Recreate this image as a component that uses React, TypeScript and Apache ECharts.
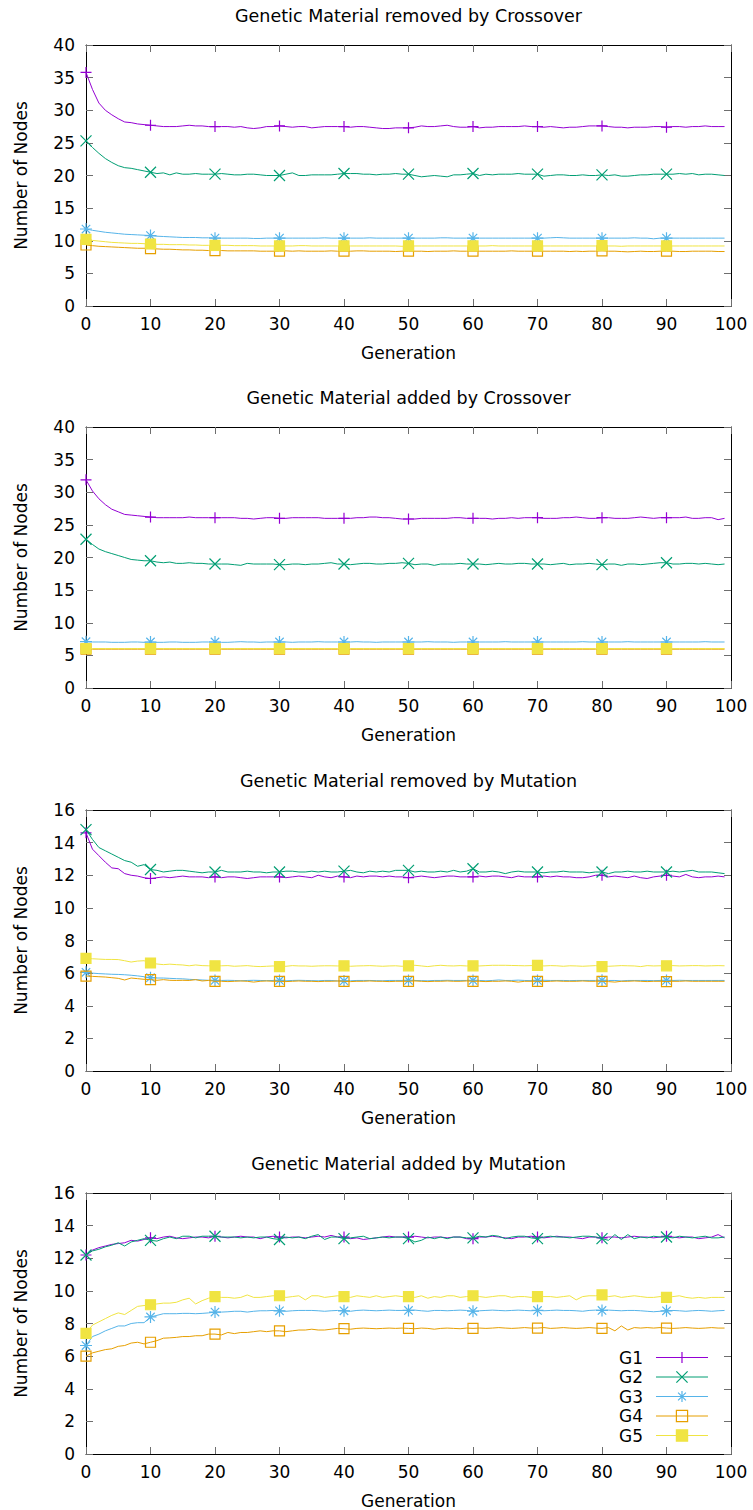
import React, { useEffect, useRef } from "react";
import * as echarts from "echarts";

// ---------- data ----------
const generations: number[] = Array.from({ length: 100 }, (_, i) => i);
const seriesNames = ["G1", "G2", "G3", "G4", "G5"];
const panelTitles = [
  "Genetic Material removed by Crossover",
  "Genetic Material added by Crossover",
  "Genetic Material removed by Mutation",
  "Genetic Material added by Mutation",
];
const yMaxes = [40, 40, 16, 16];
const yIntervals = [5, 5, 2, 2];
const xTicks = [0, 10, 20, 30, 40, 50, 60, 70, 80, 90, 100];

// Panel 1: removed by Crossover
const rcG1 = [
  35.8, 33.2, 31.1, 30.0, 29.3, 28.7, 28.2, 28.1, 27.9, 27.8,
  27.7, 27.6, 27.5, 27.5, 27.5, 27.6, 27.7, 27.6, 27.6, 27.5,
  27.5, 27.5, 27.5, 27.4, 27.5, 27.3, 27.2, 27.3, 27.5, 27.5,
  27.6, 27.5, 27.4, 27.5, 27.5, 27.3, 27.4, 27.5, 27.5, 27.5,
  27.5, 27.4, 27.5, 27.5, 27.4, 27.3, 27.2, 27.2, 27.3, 27.3,
  27.3, 27.4, 27.6, 27.5, 27.5, 27.6, 27.7, 27.5, 27.4, 27.4,
  27.5, 27.3, 27.4, 27.4, 27.5, 27.5, 27.5, 27.5, 27.6, 27.5,
  27.5, 27.4, 27.5, 27.4, 27.3, 27.4, 27.4, 27.5, 27.6, 27.6,
  27.6, 27.5, 27.4, 27.4, 27.3, 27.4, 27.4, 27.4, 27.5, 27.5,
  27.4, 27.5, 27.5, 27.4, 27.5, 27.5, 27.6, 27.5, 27.5, 27.5,
];
const rcG2 = [
  25.3, 24.3, 23.4, 22.6, 22.0, 21.5, 21.2, 21.1, 20.9, 20.7,
  20.5, 20.3, 20.4, 20.1, 20.4, 20.2, 20.2, 20.3, 20.2, 20.2,
  20.2, 20.3, 20.2, 20.1, 20.1, 20.2, 20.2, 20.1, 20.0, 20.0,
  20.0, 20.2, 20.4, 20.0, 20.0, 20.1, 20.1, 20.1, 20.1, 20.2,
  20.3, 20.3, 20.3, 20.2, 20.2, 20.1, 20.2, 20.2, 20.3, 20.2,
  20.2, 20.0, 19.8, 19.9, 20.0, 19.9, 19.8, 20.1, 20.1, 20.2,
  20.3, 20.0, 20.2, 20.1, 20.2, 20.2, 20.2, 20.3, 20.2, 20.2,
  20.2, 19.9, 20.0, 20.1, 20.1, 20.0, 20.0, 20.1, 20.0, 20.0,
  20.1, 20.0, 20.1, 19.9, 19.9, 20.0, 20.1, 20.1, 20.2, 20.2,
  20.2, 20.2, 20.3, 20.2, 20.3, 20.1, 20.2, 20.2, 20.1, 20.0,
];
const rcG3 = [
  11.8, 11.6, 11.45, 11.3, 11.2, 11.1, 11.0, 10.95, 10.9, 10.85,
  10.8, 10.7, 10.65, 10.6, 10.55, 10.5, 10.5, 10.5, 10.45, 10.45,
  10.4, 10.4, 10.4, 10.4, 10.4, 10.4, 10.35, 10.35, 10.4, 10.4,
  10.4, 10.4, 10.4, 10.4, 10.4, 10.4, 10.4, 10.45, 10.4, 10.4,
  10.4, 10.4, 10.4, 10.4, 10.45, 10.4, 10.4, 10.4, 10.4, 10.4,
  10.4, 10.4, 10.4, 10.4, 10.4, 10.45, 10.45, 10.4, 10.4, 10.4,
  10.4, 10.4, 10.4, 10.4, 10.4, 10.4, 10.4, 10.4, 10.4, 10.4,
  10.4, 10.4, 10.45, 10.5, 10.45, 10.4, 10.4, 10.4, 10.4, 10.4,
  10.4, 10.4, 10.4, 10.4, 10.4, 10.45, 10.4, 10.4, 10.3, 10.4,
  10.4, 10.4, 10.4, 10.4, 10.4, 10.4, 10.4, 10.4, 10.4, 10.4,
];
const rcG4 = [
  9.35, 9.25, 9.15, 9.1, 9.05, 9.0, 8.95, 8.9, 8.85, 8.85,
  8.8, 8.75, 8.7, 8.7, 8.65, 8.6, 8.6, 8.55, 8.55, 8.5,
  8.5, 8.5, 8.45, 8.45, 8.45, 8.45, 8.45, 8.4, 8.4, 8.4,
  8.4, 8.45, 8.4, 8.45, 8.4, 8.4, 8.4, 8.4, 8.45, 8.4,
  8.4, 8.4, 8.45, 8.45, 8.4, 8.4, 8.4, 8.4, 8.35, 8.4,
  8.4, 8.4, 8.4, 8.35, 8.4, 8.4, 8.4, 8.45, 8.4, 8.4,
  8.4, 8.4, 8.4, 8.4, 8.4, 8.4, 8.45, 8.4, 8.4, 8.4,
  8.4, 8.4, 8.4, 8.4, 8.4, 8.35, 8.4, 8.35, 8.4, 8.4,
  8.45, 8.4, 8.4, 8.35, 8.3, 8.35, 8.4, 8.35, 8.35, 8.4,
  8.4, 8.4, 8.35, 8.35, 8.4, 8.4, 8.4, 8.4, 8.35, 8.35,
];
const rcG5 = [
  10.2, 10.05, 9.95, 9.85, 9.75, 9.7, 9.65, 9.6, 9.6, 9.55,
  9.5, 9.45, 9.45, 9.4, 9.4, 9.4, 9.35, 9.35, 9.3, 9.3,
  9.3, 9.3, 9.3, 9.25, 9.25, 9.25, 9.25, 9.2, 9.2, 9.2,
  9.2, 9.2, 9.2, 9.25, 9.25, 9.2, 9.2, 9.2, 9.2, 9.2,
  9.2, 9.2, 9.2, 9.2, 9.2, 9.2, 9.2, 9.2, 9.2, 9.15,
  9.2, 9.2, 9.2, 9.2, 9.2, 9.2, 9.2, 9.2, 9.2, 9.2,
  9.2, 9.2, 9.2, 9.25, 9.2, 9.2, 9.2, 9.2, 9.2, 9.2,
  9.2, 9.2, 9.2, 9.2, 9.2, 9.2, 9.2, 9.2, 9.2, 9.2,
  9.25, 9.2, 9.2, 9.15, 9.2, 9.2, 9.2, 9.2, 9.2, 9.2,
  9.2, 9.2, 9.2, 9.2, 9.2, 9.2, 9.2, 9.2, 9.2, 9.2,
];

// Panel 2: added by Crossover
const acG1 = [
  31.9, 30.2, 29.0, 28.1, 27.4, 27.0, 26.6, 26.5, 26.4, 26.3,
  26.2, 26.1, 26.1, 26.1, 26.1, 26.1, 26.2, 26.1, 26.1, 26.1,
  26.1, 26.1, 26.1, 26.1, 26.0, 26.0, 25.9, 26.0, 26.1, 26.1,
  26.0, 26.0, 26.1, 26.1, 26.1, 26.1, 26.1, 26.0, 26.0, 26.0,
  26.0, 26.0, 26.1, 26.1, 26.2, 26.2, 26.1, 26.1, 26.0, 25.9,
  25.9, 25.9, 26.0, 26.0, 26.0, 26.0, 26.0, 26.1, 26.1, 26.0,
  26.0, 26.0, 26.0, 25.9, 26.0, 26.0, 26.1, 26.0, 26.1, 26.1,
  26.1, 26.0, 26.0, 26.0, 26.1, 26.1, 26.2, 26.1, 26.0, 26.0,
  26.1, 26.1, 26.0, 26.0, 26.0, 26.1, 26.2, 26.1, 26.0, 26.1,
  26.1, 26.1, 26.1, 26.2, 26.0, 26.0, 26.1, 26.1, 25.8, 26.0,
];
const acG2 = [
  22.8, 22.0, 21.3, 20.9, 20.6, 20.3, 20.0, 19.7, 19.6, 19.5,
  19.5, 19.3, 19.2, 19.3, 19.1, 19.1, 19.2, 19.1, 19.1, 19.0,
  19.0, 19.0, 19.0, 18.9, 18.8, 19.1, 19.0, 19.0, 19.0, 19.0,
  18.9, 18.9, 19.0, 19.0, 18.9, 19.0, 19.0, 19.1, 19.2, 19.0,
  19.0, 18.9, 19.0, 19.1, 19.1, 19.0, 19.0, 19.1, 19.1, 19.2,
  19.1, 18.9, 19.0, 19.0, 18.8, 19.0, 19.0, 19.0, 19.1, 19.0,
  19.0, 19.0, 18.9, 19.0, 19.1, 19.0, 19.0, 19.1, 19.1, 19.0,
  19.0, 19.0, 18.9, 19.0, 19.1, 18.9, 19.0, 19.0, 19.1, 19.0,
  18.9, 19.0, 19.0, 18.8, 19.0, 19.0, 18.9, 19.0, 19.1, 19.2,
  19.2, 19.0, 19.0, 19.1, 19.1, 19.0, 19.1, 19.0, 18.9, 19.0,
];
const acG3 = [
  7.1, 7.05, 7.05, 7.05, 7.0, 7.0, 7.0, 7.05, 7.05, 7.0,
  7.05, 7.0, 7.0, 7.05, 7.05, 7.0, 7.0, 7.0, 7.05, 7.05,
  7.05, 7.0, 7.0, 7.05, 7.1, 7.05, 7.05, 7.0, 7.05, 7.05,
  7.05, 7.05, 7.0, 7.05, 7.05, 7.05, 7.1, 7.05, 7.05, 7.05,
  7.05, 7.05, 7.1, 7.05, 7.05, 7.0, 7.05, 7.05, 7.05, 7.05,
  7.05, 7.05, 7.05, 7.1, 7.05, 7.05, 7.05, 7.0, 7.05, 7.05,
  7.05, 7.05, 7.05, 7.05, 7.05, 7.1, 7.05, 7.05, 7.05, 7.05,
  7.05, 7.05, 7.05, 7.05, 7.05, 7.05, 7.05, 7.1, 7.05, 7.05,
  7.05, 7.05, 7.05, 7.05, 7.1, 7.05, 7.05, 7.05, 7.05, 7.05,
  7.05, 7.05, 7.05, 7.05, 7.05, 7.05, 7.1, 7.05, 7.05, 7.05,
];
const acG4 = [
  5.95, 5.95, 5.95, 5.95, 5.95, 5.95, 5.95, 5.95, 5.95, 5.95,
  5.95, 5.95, 5.95, 5.95, 5.95, 5.95, 5.95, 5.95, 5.95, 5.95,
  5.95, 5.95, 5.95, 5.95, 5.95, 5.95, 5.95, 5.95, 5.95, 5.95,
  5.95, 5.95, 5.95, 5.95, 5.95, 5.95, 5.95, 5.95, 5.95, 5.95,
  5.95, 5.95, 5.95, 5.95, 5.95, 5.95, 5.95, 5.95, 5.95, 5.95,
  5.95, 5.95, 5.95, 5.95, 5.95, 5.95, 5.95, 5.95, 5.95, 5.95,
  5.95, 5.95, 5.95, 5.95, 5.95, 5.95, 5.95, 5.95, 5.95, 5.95,
  5.95, 5.95, 5.95, 5.95, 5.95, 5.95, 5.95, 5.95, 5.95, 5.95,
  5.95, 5.95, 5.95, 5.95, 5.95, 5.95, 5.95, 5.95, 5.95, 5.95,
  5.95, 5.95, 5.95, 5.95, 5.95, 5.95, 5.95, 5.95, 5.95, 5.95,
];
const acG5 = [
  6.05, 6.05, 6.05, 6.05, 6.05, 6.05, 6.05, 6.05, 6.05, 6.05,
  6.05, 6.05, 6.05, 6.05, 6.05, 6.05, 6.05, 6.05, 6.05, 6.05,
  6.05, 6.05, 6.05, 6.05, 6.05, 6.05, 6.05, 6.05, 6.05, 6.05,
  6.05, 6.05, 6.05, 6.05, 6.05, 6.05, 6.05, 6.05, 6.05, 6.05,
  6.05, 6.05, 6.05, 6.05, 6.05, 6.05, 6.05, 6.05, 6.05, 6.05,
  6.05, 6.05, 6.05, 6.05, 6.05, 6.05, 6.05, 6.05, 6.05, 6.05,
  6.05, 6.05, 6.05, 6.05, 6.05, 6.05, 6.05, 6.05, 6.05, 6.05,
  6.05, 6.05, 6.05, 6.05, 6.05, 6.05, 6.05, 6.05, 6.05, 6.05,
  6.05, 6.05, 6.05, 6.05, 6.05, 6.05, 6.05, 6.05, 6.05, 6.05,
  6.05, 6.05, 6.05, 6.05, 6.05, 6.05, 6.05, 6.05, 6.05, 6.05,
];

// Panel 3: removed by Mutation
const rmG1 = [
  14.6, 13.6, 13.2, 12.8, 12.45, 12.4, 12.1, 12.0, 11.95, 11.85,
  11.8, 11.85, 11.9, 11.85, 11.9, 11.95, 11.9, 11.9, 11.9, 11.85,
  11.9, 11.85, 11.9, 11.9, 11.85, 11.8, 11.85, 11.9, 11.9, 11.9,
  11.9, 11.85, 11.9, 11.95, 11.9, 11.85, 12.0, 11.9, 11.85, 11.95,
  11.9, 11.85, 11.95, 11.9, 11.95, 11.95, 11.9, 11.95, 11.9, 11.9,
  11.85, 11.9, 11.95, 11.9, 11.85, 11.9, 11.95, 11.95, 11.9, 11.9,
  11.9, 11.95, 11.9, 11.95, 11.95, 11.9, 11.85, 11.95, 11.9, 11.9,
  11.9, 11.95, 11.9, 11.95, 11.9, 11.9, 11.85, 11.85, 11.9, 12.0,
  12.0, 11.9, 11.95, 11.9, 11.85, 11.95, 11.85, 11.8, 11.9, 11.95,
  12.0, 11.95, 11.9, 12.05, 11.9, 11.85, 11.9, 11.9, 11.95, 11.9,
];
const rmG2 = [
  14.8, 14.2, 13.7, 13.5, 13.3, 13.1, 12.9, 12.8, 12.55, 12.65,
  12.35, 12.3, 12.2, 12.25, 12.3, 12.3, 12.25, 12.2, 12.15, 12.2,
  12.2, 12.3, 12.2, 12.2, 12.2, 12.25, 12.2, 12.2, 12.15, 12.2,
  12.2, 12.25, 12.25, 12.2, 12.2, 12.25, 12.2, 12.25, 12.2, 12.2,
  12.25, 12.3, 12.2, 12.15, 12.25, 12.2, 12.25, 12.2, 12.3, 12.3,
  12.3, 12.2, 12.25, 12.2, 12.2, 12.25, 12.2, 12.3, 12.2, 12.25,
  12.4, 12.2, 12.2, 12.25, 12.2, 12.1, 12.2, 12.25, 12.2, 12.2,
  12.2, 12.15, 12.2, 12.2, 12.25, 12.2, 12.2, 12.2, 12.15, 12.2,
  12.2, 12.1, 12.2, 12.2, 12.25, 12.2, 12.2, 12.25, 12.2, 12.2,
  12.2, 12.25, 12.2, 12.25, 12.3, 12.2, 12.2, 12.2, 12.15, 12.1,
];
const rmG3 = [
  6.05, 6.0, 5.97, 5.95, 5.93, 5.92, 5.9, 5.87, 5.83, 5.78,
  5.72, 5.7, 5.7, 5.68, 5.66, 5.65, 5.62, 5.6, 5.58, 5.56,
  5.55, 5.55, 5.56, 5.55, 5.53, 5.55, 5.56, 5.55, 5.54, 5.55,
  5.55, 5.53, 5.55, 5.56, 5.55, 5.54, 5.53, 5.55, 5.55, 5.52,
  5.52, 5.53, 5.55, 5.55, 5.55, 5.54, 5.53, 5.55, 5.55, 5.55,
  5.55, 5.55, 5.54, 5.53, 5.55, 5.55, 5.56, 5.55, 5.55, 5.55,
  5.55, 5.55, 5.53, 5.55, 5.58, 5.55, 5.55, 5.57, 5.55, 5.54,
  5.55, 5.56, 5.55, 5.55, 5.55, 5.54, 5.55, 5.55, 5.55, 5.55,
  5.56, 5.55, 5.55, 5.52, 5.55, 5.55, 5.55, 5.55, 5.54, 5.55,
  5.55, 5.55, 5.56, 5.55, 5.55, 5.55, 5.55, 5.55, 5.55, 5.55,
];
const rmG4 = [
  5.82, 5.8, 5.78, 5.76, 5.72, 5.68, 5.58, 5.7, 5.66, 5.62,
  5.6, 5.56, 5.6, 5.56, 5.55, 5.56, 5.55, 5.6, 5.52, 5.55,
  5.5, 5.5, 5.48, 5.5, 5.52, 5.5, 5.45, 5.5, 5.52, 5.5,
  5.5, 5.48, 5.5, 5.52, 5.5, 5.5, 5.48, 5.5, 5.5, 5.52,
  5.5, 5.48, 5.5, 5.5, 5.52, 5.5, 5.5, 5.48, 5.5, 5.5,
  5.5, 5.52, 5.5, 5.48, 5.5, 5.5, 5.52, 5.5, 5.5, 5.52,
  5.5, 5.5, 5.48, 5.5, 5.5, 5.52, 5.5, 5.45, 5.5, 5.5,
  5.5, 5.48, 5.5, 5.52, 5.5, 5.5, 5.5, 5.52, 5.5, 5.5,
  5.5, 5.48, 5.45, 5.5, 5.5, 5.52, 5.5, 5.48, 5.5, 5.5,
  5.48, 5.5, 5.5, 5.52, 5.5, 5.5, 5.5, 5.5, 5.5, 5.5,
];
const rmG5 = [
  6.9, 6.88, 6.86, 6.84, 6.84, 6.83, 6.76, 6.68, 6.74, 6.76,
  6.62, 6.56, 6.52, 6.55, 6.52, 6.5, 6.45, 6.5, 6.46, 6.45,
  6.45, 6.45, 6.46, 6.42, 6.44, 6.46, 6.42, 6.4, 6.42, 6.44,
  6.4, 6.42, 6.46, 6.44, 6.44, 6.42, 6.44, 6.45, 6.45, 6.44,
  6.45, 6.42, 6.44, 6.45, 6.46, 6.44, 6.42, 6.44, 6.45, 6.42,
  6.45, 6.48, 6.44, 6.4, 6.45, 6.48, 6.45, 6.44, 6.46, 6.44,
  6.45, 6.44, 6.46, 6.48, 6.48, 6.48, 6.47, 6.46, 6.45, 6.46,
  6.48, 6.44, 6.46, 6.45, 6.42, 6.45, 6.44, 6.42, 6.44, 6.46,
  6.4, 6.42, 6.44, 6.46, 6.45, 6.44, 6.4, 6.46, 6.44, 6.45,
  6.45, 6.46, 6.44, 6.45, 6.46, 6.46, 6.44, 6.45, 6.46, 6.45,
];

// Panel 4: added by Mutation
const amG1 = [
  12.2, 12.5, 12.65, 12.75, 12.85, 12.9, 12.95, 13.1, 13.05, 13.15,
  13.25, 13.2, 13.3, 13.35, 13.25, 13.2, 13.25, 13.3, 13.3, 13.25,
  13.35, 13.3, 13.25, 13.3, 13.35, 13.3, 13.3, 13.2, 13.3, 13.35,
  13.3, 13.25, 13.3, 13.3, 13.25, 13.3, 13.35, 13.3, 13.4, 13.3,
  13.3, 13.2, 13.25, 13.15, 13.2, 13.25, 13.3, 13.35, 13.3, 13.3,
  13.3, 13.35, 13.3, 13.25, 13.3, 13.3, 13.25, 13.3, 13.3, 13.2,
  13.2, 13.3, 13.3, 13.35, 13.3, 13.25, 13.2, 13.3, 13.3, 13.35,
  13.3, 13.25, 13.3, 13.35, 13.3, 13.3, 13.25, 13.2, 13.3, 13.3,
  13.25, 13.3, 13.3, 13.25, 13.3, 13.35, 13.3, 13.3, 13.25, 13.3,
  13.35, 13.3, 13.25, 13.3, 13.3, 13.2, 13.25, 13.3, 13.45, 13.25,
];
const amG2 = [
  12.2, 12.45, 12.55, 12.7, 12.8, 12.95, 12.75, 13.0, 13.1, 13.2,
  13.1, 13.05, 13.2, 13.3, 13.2, 13.35, 13.35, 13.25, 13.35, 13.35,
  13.35, 13.3, 13.3, 13.3, 13.25, 13.3, 13.25, 13.3, 13.3, 13.2,
  13.15, 13.3, 13.25, 13.3, 13.2, 13.35, 13.45, 13.15, 13.3, 13.3,
  13.2, 13.25, 13.3, 13.35, 13.2, 13.25, 13.3, 13.25, 13.3, 13.3,
  13.2, 13.0, 13.1, 13.3, 13.2, 13.3, 13.2, 13.3, 13.3, 13.25,
  13.25, 13.35, 13.3, 13.4, 13.35, 13.2, 13.3, 13.35, 13.35, 13.25,
  13.2, 13.3, 13.35, 13.3, 13.3, 13.25, 13.3, 13.35, 13.35, 13.3,
  13.2, 13.1, 13.45, 13.15, 13.45, 13.2, 13.3, 13.25, 13.35, 13.3,
  13.3, 13.25, 13.35, 13.3, 13.25, 13.3, 13.35, 13.25, 13.25, 13.3,
];
const amG3 = [
  6.65, 7.2, 7.35, 7.55, 7.7, 7.85, 7.85, 8.0, 8.05, 8.05,
  8.4, 8.5, 8.6, 8.6, 8.6, 8.62, 8.62, 8.6, 8.62, 8.65,
  8.7, 8.7, 8.72, 8.75, 8.75, 8.7, 8.75, 8.78, 8.78, 8.8,
  8.78, 8.75, 8.78, 8.8, 8.8, 8.8, 8.78, 8.75, 8.78, 8.8,
  8.78, 8.75, 8.8, 8.82, 8.8, 8.78, 8.8, 8.82, 8.8, 8.8,
  8.8, 8.82, 8.78, 8.75, 8.8, 8.8, 8.78, 8.8, 8.82, 8.8,
  8.75, 8.78, 8.8, 8.82, 8.8, 8.78, 8.8, 8.82, 8.8, 8.78,
  8.8, 8.78, 8.8, 8.82, 8.8, 8.8, 8.78, 8.75, 8.8, 8.82,
  8.8, 8.82, 8.8, 8.78, 8.8, 8.8, 8.78, 8.75, 8.72, 8.75,
  8.78, 8.8, 8.78, 8.75, 8.78, 8.8, 8.78, 8.75, 8.78, 8.8,
];
const amG4 = [
  6.0, 6.2, 6.3, 6.4, 6.45, 6.6, 6.65, 6.8, 6.85, 6.75,
  6.85, 6.95, 7.1, 7.12, 7.15, 7.2, 7.2, 7.25, 7.25, 7.35,
  7.35, 7.3, 7.45, 7.38, 7.45, 7.45, 7.5, 7.55, 7.5, 7.55,
  7.55, 7.5, 7.55, 7.6, 7.6, 7.65, 7.6, 7.6, 7.65, 7.7,
  7.68, 7.65, 7.7, 7.72, 7.7, 7.68, 7.7, 7.72, 7.7, 7.72,
  7.7, 7.68, 7.72, 7.7, 7.65, 7.7, 7.72, 7.7, 7.68, 7.72,
  7.7, 7.72, 7.7, 7.72, 7.75, 7.72, 7.7, 7.72, 7.75, 7.72,
  7.72, 7.75, 7.7, 7.72, 7.75, 7.72, 7.7, 7.72, 7.75, 7.72,
  7.7, 7.75, 7.55, 7.85, 7.6, 7.75, 7.72, 7.75, 7.72, 7.75,
  7.72, 7.7, 7.72, 7.75, 7.72, 7.7, 7.72, 7.75, 7.72, 7.72,
];
const amG5 = [
  7.4, 7.9, 8.1, 8.3, 8.5, 8.65, 8.55, 8.8, 9.05, 9.1,
  9.15, 9.2, 9.25, 9.25, 9.3, 9.45, 9.55, 9.2, 9.4, 9.55,
  9.65, 9.6, 9.6, 9.55, 9.6, 9.75, 9.6, 9.6, 9.65, 9.7,
  9.7, 9.6, 9.65, 9.7, 9.45, 9.7, 9.7, 9.6, 9.65, 9.7,
  9.65, 9.6, 9.7, 9.65, 9.6, 9.7, 9.6, 9.65, 9.7, 9.65,
  9.65, 9.6, 9.7, 9.55, 9.65, 9.6, 9.7, 9.7, 9.6, 9.65,
  9.7, 9.65, 9.6, 9.65, 9.7, 9.7, 9.6, 9.65, 9.65, 9.6,
  9.65, 9.65, 9.65, 9.6, 9.65, 9.7, 9.45, 9.65, 9.7, 9.7,
  9.75, 9.65, 9.7, 9.6, 9.65, 9.7, 9.65, 9.6, 9.6, 9.65,
  9.6, 9.65, 9.7, 9.6, 9.55, 9.6, 9.55, 9.6, 9.6, 9.6,
];

const panelData = [
  [rcG1, rcG2, rcG3, rcG4, rcG5],
  [acG1, acG2, acG3, acG4, acG5],
  [rmG1, rmG2, rmG3, rmG4, rmG5],
  [amG1, amG2, amG3, amG4, amG5],
];

// ---------- styling ----------
const COLORS = ["#9400d3", "#009e73", "#56b4e9", "#e69f00", "#f0e442"];
const SYMBOLS = [
  "path://M5,0L5,10M0,5L10,5",
  "path://M0,0L10,10M10,0L0,10",
  "path://M5,0L5,10M0,5L10,5M1.5,1.5L8.5,8.5M8.5,1.5L1.5,8.5",
  "path://M0,0L10,0L10,10L0,10Z",
  "path://M0,0L10,0L10,10L0,10Z",
];
const FILLED = [false, false, false, false, true];
const FONT = "DejaVu Sans";
const GRID_TOPS = [45, 427, 810, 1193];
const GRID_H = 261;
const GRID_LEFT = 86;
const GRID_RIGHT = 22;

export default function App() {
  const ref = useRef<HTMLDivElement>(null);

  useEffect(() => {
    if (!ref.current) return;
    const chart = echarts.init(ref.current, null, { renderer: "svg" });

    const axisLine = { show: true, onZero: false, lineStyle: { color: "#000", width: 1 } };
    const axisTick = { show: true, inside: true, length: 7, lineStyle: { color: "#6e6e6e", width: 1 } };
    const labelStyle = { fontSize: 17, fontFamily: FONT, color: "#000" };

    const grids: any[] = [];
    const xAxes: any[] = [];
    const yAxes: any[] = [];
    const titles: any[] = [];
    const series: any[] = [];

    for (let p = 0; p < 4; p++) {
      grids.push({ left: GRID_LEFT, right: GRID_RIGHT, top: GRID_TOPS[p], height: GRID_H, containLabel: false });
      titles.push({
        text: panelTitles[p],
        left: (GRID_LEFT + 753 - GRID_RIGHT) / 2,
        top: GRID_TOPS[p] - 38,
        textAlign: "center",
        padding: 0,
        textStyle: { fontSize: 17.5, fontWeight: "normal", fontFamily: FONT, color: "#000" },
      });
      xAxes.push({
        type: "value", gridIndex: p, position: "bottom",
        min: xTicks[0], max: xTicks[xTicks.length - 1], interval: 10,
        name: "Generation", nameLocation: "middle", nameGap: 38,
        nameTextStyle: labelStyle,
        axisLine, axisTick,
        axisLabel: { ...labelStyle, margin: 9 },
        splitLine: { show: false },
      });
      xAxes.push({
        type: "value", gridIndex: p, position: "top",
        min: xTicks[0], max: xTicks[xTicks.length - 1], interval: 10,
        axisLine, axisTick, axisLabel: { show: false }, splitLine: { show: false },
      });
      yAxes.push({
        type: "value", gridIndex: p, position: "left",
        min: 0, max: yMaxes[p], interval: yIntervals[p],
        name: "Number of Nodes", nameLocation: "middle", nameGap: 57,
        nameTextStyle: labelStyle,
        axisLine, axisTick,
        axisLabel: { ...labelStyle, margin: 11 },
        splitLine: { show: false },
      });
      yAxes.push({
        type: "value", gridIndex: p, position: "right",
        min: 0, max: yMaxes[p], interval: yIntervals[p],
        axisLine, axisTick, axisLabel: { show: false }, splitLine: { show: false },
      });

      panelData[p].forEach((vals, s) => {
        const c = COLORS[s];
        series.push({
          type: "line",
          name: seriesNames[s],
          xAxisIndex: p * 2,
          yAxisIndex: p * 2,
          data: vals.map((v, i) =>
            generations[i] % 10 === 0
              ? { value: [generations[i], v] }
              : { value: [generations[i], v], symbol: "none" }
          ),
          symbol: SYMBOLS[s],
          symbolSize: s >= 3 ? 10 : s === 2 ? 12 : 11,
          showAllSymbol: true,
          lineStyle: { color: c, width: 1 },
          itemStyle: {
            color: FILLED[s] ? c : "rgba(0,0,0,0)",
            borderColor: c,
            borderWidth: 1.2,
          },
          emphasis: { disabled: true },
          z: 2 + s,
        });
      });
    }

    chart.setOption({
      animation: false,
      backgroundColor: "#fff",
      title: titles,
      grid: grids,
      xAxis: xAxes,
      yAxis: yAxes,
      legend: {
        data: seriesNames,
        orient: "vertical",
        left: 619,
        top: 1349,
        align: "right",
        itemWidth: 52,
        itemHeight: 14,
        itemGap: 2.5,
        padding: 0,
        selectedMode: false,
        lineStyle: { width: 1, color: "inherit" },
        itemStyle: { borderWidth: 1.2, borderColor: "inherit" },
        textStyle: { fontSize: 17, fontFamily: FONT, color: "#000", padding: [0, 8, 0, 0] },
      },
      series,
    });

    return () => chart.dispose();
  }, []);

  return (
    <div
      ref={ref}
      style={{ position: "absolute", left: 0, top: 0, width: 753, height: 1510, background: "#fff" }}
    />
  );
}
